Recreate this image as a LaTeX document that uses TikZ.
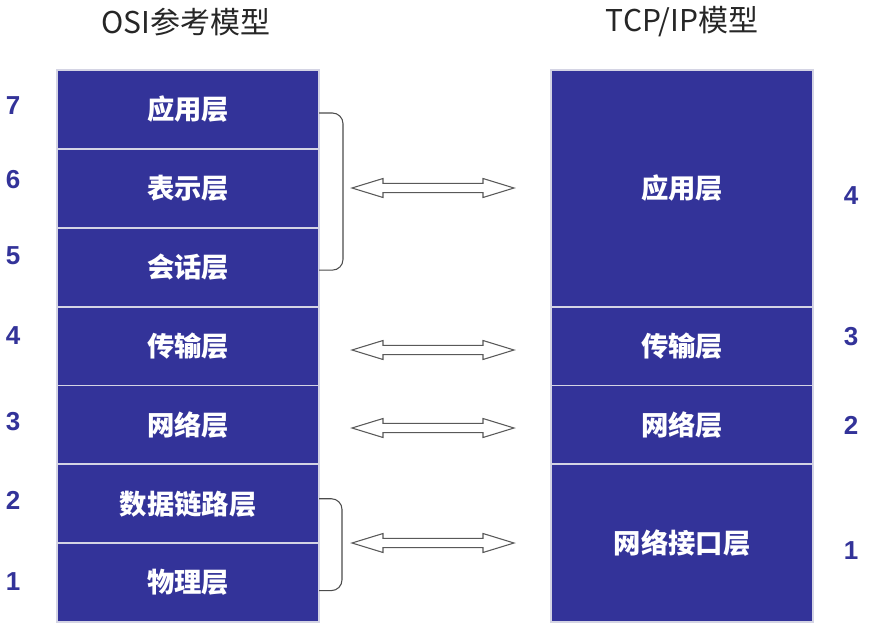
\documentclass[tikz,border=0pt]{standalone}
\usepackage{fontspec}
\setmainfont{Liberation Sans}
\newfontfamily\cjk{Noto Sans CJK SC}
\usetikzlibrary{positioning,calc}
\definecolor{layerblue}{HTML}{333399}
\definecolor{sepgray}{HTML}{D4D4E4}

\begin{document}
\begin{tikzpicture}[x=0.75pt,y=-0.75pt,
	layer/.style={draw=sepgray, line width=1.4pt, outer sep=0pt, inner sep=0pt, fill=layerblue, text=white,
		font=\cjk\bfseries\fontsize{20.5}{20.5}\selectfont, minimum width=196.5pt, minimum height=59.15pt},
	num/.style={text=layerblue, font=\bfseries\fontsize{19.5}{19.5}\selectfont},
	title/.style={text=black!85, font=\cjk\fontsize{22.5}{22.5}\selectfont},
	brace/.style={draw=black!70, line width=0.8pt, rounded corners=8pt},
	link/.style={draw=black!65, line width=0.8pt, fill=white},
	dblarrow/.pic={
		\draw[link] (-81,0) -- ++(31,-9.5) -- ++(0,4.8) -- ++(100,0) -- ++(0,-4.8) -- ++(31,9.5)
			-- ++(-31,9.5) -- ++(0,-4.8) -- ++(-100,0) -- ++(0,4.8) -- cycle;
	},
	node distance=0pt]
	\useasboundingbox (0,0) rectangle (878,635);
	\node[title](osititle) at (186,22){OSI参考模型};
	\node[title](tcptitle) at (682,22){TCP/IP模型};
	% OSI
	\node[layer](app7) at (188,109.4){应用层};
	\node[layer, below=of app7](pres6){表示层};
	\node[layer, below=of pres6](sess5){会话层};
	\node[layer, below=of sess5](trans4){传输层};
	\node[layer, below=of trans4](net3){网络层};
	\node[layer, below=of net3](link2){数据链路层};
	\node[layer, below=of link2](phy1){物理层};
	% TCP/IP
	\node[layer, minimum height=177.45pt](tapp) at (682,188.3){应用层};
	\node[layer, below=of tapp](ttrans){传输层};
	\node[layer, below=of ttrans](tnet){网络层};
	\node[layer, below=of tnet, minimum height=118.3pt](tif){网络接口层};
	% numbers
	\node[num](n7) at (13,106){7};
	\node[num](n6) at (13,180){6};
	\node[num](n5) at (13,256){5};
	\node[num](n4) at (13,336){4};
	\node[num](n3) at (13,422){3};
	\node[num](n2) at (13,500){2};
	\node[num](n1) at (13,582){1};
	\node[num](m4) at (851,196){4};
	\node[num](m3) at (851,337){3};
	\node[num](m2) at (851,425){2};
	\node[num](m1) at (851,551){1};
	% braces
	\draw[brace] ($(app7.east)+(0,3.6)$) -| ($(sess5.east)+(24,3)$) -- ($(sess5.east)+(0,3)$);
	\draw[brace] ($(link2.east)+(0,-5)$) -| ($(phy1.east)+(23,8)$) -- ($(phy1.east)+(0,8)$);
	% arrows
	\pic (a1) at (433,188) {dblarrow};
	\pic (a2) at (433,350) {dblarrow};
	\pic (a3) at (433,428) {dblarrow};
	\pic (a4) at (433,543) {dblarrow};
\end{tikzpicture}
\end{document}
